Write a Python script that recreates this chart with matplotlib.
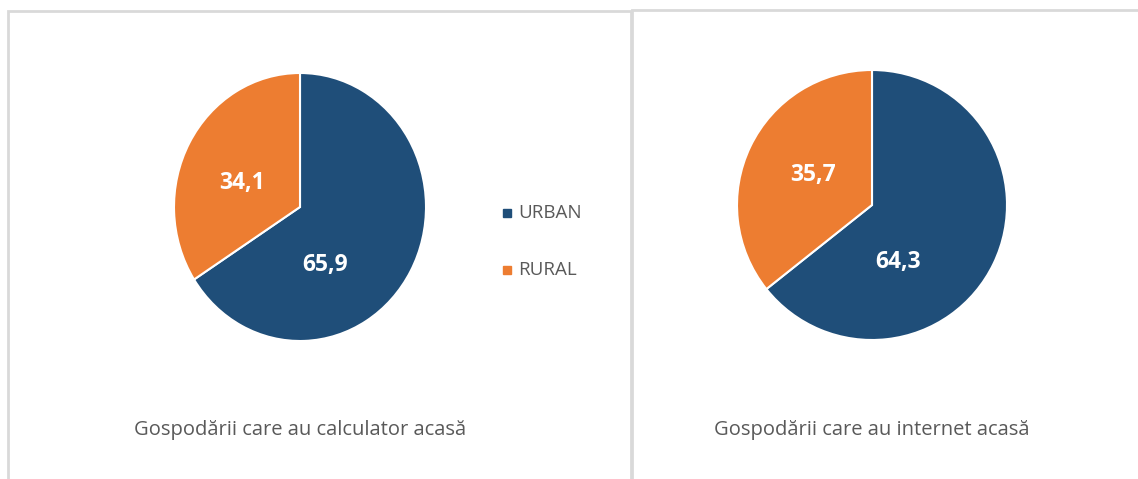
import matplotlib

matplotlib.use("Agg")
import matplotlib.pyplot as plt
from matplotlib.patches import Rectangle

categories = ["URBAN", "RURAL"]
calculator_values = [65.9, 34.1]
internet_values = [64.3, 35.7]
titles = [
    "Gospodării care au calculator acasă",
    "Gospodării care au internet acasă",
]

blue = "#1F4E79"
orange = "#ED7D31"
grey_text = "#595959"
border = "#D9D9D9"

W, H = 1138, 479
plt.rcParams["font.family"] = ["Open Sans", "DejaVu Sans"]
fig = plt.figure(figsize=(W / 100, H / 100), dpi=100)
fig.patch.set_facecolor("white")


def px_axes(cx, cy, rx, ry):
    return fig.add_axes([(cx - rx) / W, (H - cy - ry) / H, 2 * rx / W, 2 * ry / H])


# panel frames
fig.patches.append(Rectangle((8 / W, -0.1), 623 / W, 1.1 - 11 / H, transform=fig.transFigure,
                             fill=False, edgecolor=border, linewidth=2))
fig.patches.append(Rectangle((632 / W, -0.1), 0.6, 1.1 - 10 / H, transform=fig.transFigure,
                             fill=False, edgecolor=border, linewidth=2))

# label positions as (dx, dy) in units of radius, per wedge
label_offsets = [
    [(0.20, -0.43), (-0.46, 0.18)],
    [(0.19, -0.42), (-0.44, 0.22)],
]
# pixel centre and radii of each pie
geometry = [(300, 207, 126, 134), (872, 205, 135, 135)]

for (cx, cy, rx, ry), values, offsets, title in zip(
    geometry, [calculator_values, internet_values], label_offsets, titles
):
    ax = px_axes(cx, cy, rx, ry)
    ax.pie(
        values,
        colors=[blue, orange],
        startangle=90,
        counterclock=False,
        wedgeprops=dict(edgecolor="white", linewidth=1.5),
    )
    ax.set_aspect("auto")
    ax.set_xlim(-1, 1)
    ax.set_ylim(-1, 1)
    for v, (dx, dy) in zip(values, offsets):
        ax.text(dx, dy, f"{v:.1f}".replace(".", ","), color="white", fontsize=16.5,
                fontweight="bold", ha="center", va="center")
    fig.text(cx / W, 1 - 430 / H, title, ha="center", va="center", fontsize=14.5,
             color=grey_text)

# legend
for i, (name, color) in enumerate(zip(categories, [blue, orange])):
    y = 1 - (213 + 57 * i) / H
    fig.patches.append(Rectangle((503 / W, y - 4 / H), 8 / W, 8 / H,
                                 transform=fig.transFigure, color=color))
    fig.text(518 / W, y, name, ha="left", va="center", fontsize=13.5, color=grey_text)

fig.savefig("out.png", dpi=100)
